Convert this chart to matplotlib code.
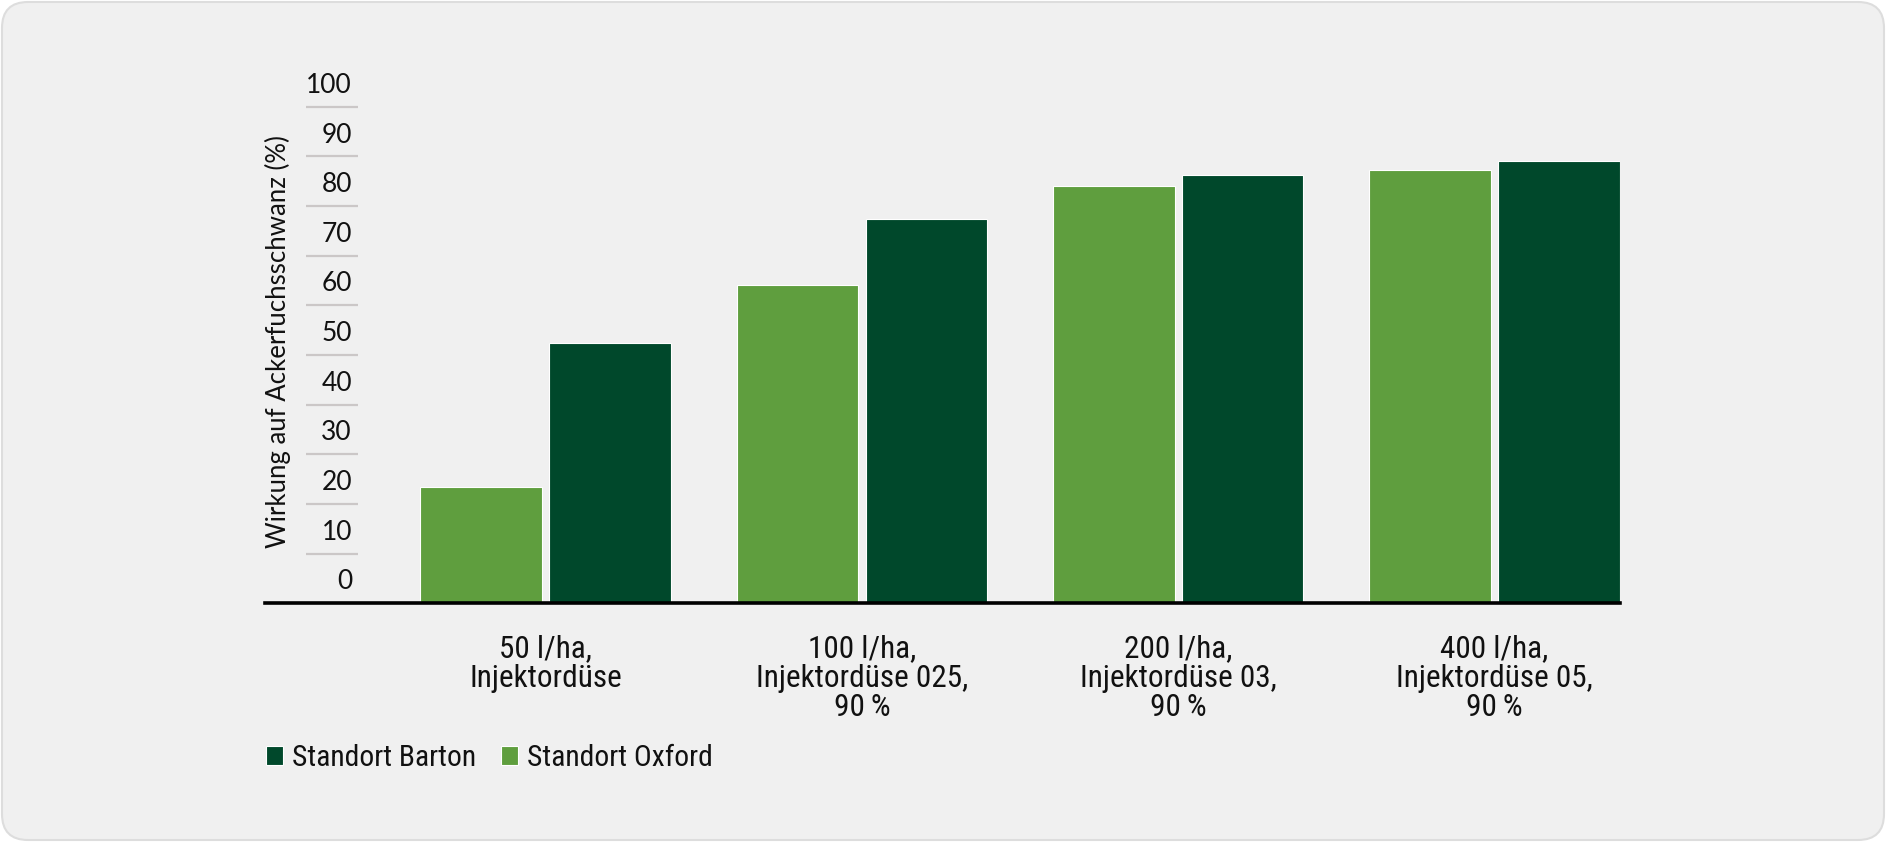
import matplotlib
matplotlib.use("Agg")
import matplotlib.pyplot as plt
from matplotlib import font_manager
from matplotlib.font_manager import FontProperties
from matplotlib.patches import FancyBboxPatch
from matplotlib.transforms import IdentityTransform
import numpy as np

categories = ["50 l/ha,\nInjektordüse", "100 l/ha,\nInjektordüse 025,\n90\u2009%",
              "200 l/ha,\nInjektordüse 03,\n90\u2009%", "400 l/ha,\nInjektordüse 05,\n90\u2009%"]
oxford = [23.5, 64.0, 84.0, 87.2]
barton = [52.4, 77.4, 86.2, 89.1]
yticks = [0, 10, 20, 30, 40, 50, 60, 70, 80, 90, 100]
ylabel = "Wirkung auf Ackerfuchsschwanz (%)"
series_names = ["Standort Barton", "Standort Oxford"]

C_OX = "#5f9e3e"
C_BA = "#00482b"

names = {f.name for f in font_manager.fontManager.ttflist}


def find_condensed():
    cands = []
    for f in font_manager.fontManager.ttflist:
        fn = f.fname.lower()
        if ("condensed" in fn or "narrow" in fn) and "semicondensed" not in fn \
                and "extracondensed" not in fn and f.style == "normal" \
                and f.weight in (400, "normal", "regular"):
            cands.append(f)
    pref = ["Liberation Sans Narrow", "Roboto Condensed", "Noto Sans", "Open Sans", "Roboto"]
    for p in pref:
        for f in cands:
            if f.name == p or f.name.startswith(p):
                return f.fname
    return cands[0].fname if cands else None


cfile = find_condensed()
if cfile:
    def narrow_fp(size):
        return FontProperties(fname=cfile, size=size)
else:
    def narrow_fp(size):
        return FontProperties(family="Liberation Sans", size=size * 0.85)

main = "Lato" if "Lato" in names else "DejaVu Sans"

W, H = 1886, 842
fig = plt.figure(figsize=(W / 100, H / 100), dpi=100, facecolor="white")

bg = FancyBboxPatch((2, 2), W - 4, H - 4, boxstyle="round,pad=0,rounding_size=26",
                    transform=IdentityTransform(), facecolor="#f0f0f0",
                    edgecolor="#dddddd", linewidth=1.5, zorder=-10)
fig.patches.append(bg)

ax_left, ax_right, y0, y100 = 265, 1619.5, 603.3, 106.7
ax = fig.add_axes([ax_left / W, (H - y0) / H, (ax_right - ax_left) / W, (y0 - y100) / H])
ax.set_zorder(2)
ax.set_facecolor("none")
ax.set_ylim(0, 100)
ax.set_xlim(-0.887, 3.395)

x = np.arange(len(categories))
bw = 0.384
off = 0.2035
ax.bar(x - off, oxford, width=bw, color=C_OX, edgecolor="#ffffff", linewidth=0.8, zorder=3,
       label=series_names[1])
ax.bar(x + off, barton, width=bw, color=C_BA, edgecolor="#ffffff", linewidth=0.8, zorder=3,
       label=series_names[0])

for s in ["top", "right", "left"]:
    ax.spines[s].set_visible(False)
ax.spines["bottom"].set_linewidth(2.6)
ax.spines["bottom"].set_color("black")
ax.spines["bottom"].set_zorder(4)
ax.set_yticks([])

tr = ax.get_yaxis_transform()
seg_x0 = (306 - ax_left) / (ax_right - ax_left)
seg_x1 = (357.7 - ax_left) / (ax_right - ax_left)
lab_x = (352 - ax_left) / (ax_right - ax_left)
for v in yticks:
    if v > 0:
        ax.plot([seg_x0, seg_x1], [v, v], transform=tr, color="#cbc7c7", lw=1.6,
                clip_on=False, solid_capstyle="butt")
    ax.text(lab_x, v + 4.3, str(v), transform=tr, ha="right", va="center",
            fontsize=19, family=main, color="#111111", clip_on=False)

ax.text((278 - ax_left) / (ax_right - ax_left), 52.7, ylabel, transform=tr, rotation=90,
        ha="center", va="center", fontsize=18.5, family=main, color="#111111")

ax.set_xticks(x)
ax.set_xticklabels(categories, fontproperties=narrow_fp(22.5), color="#111111", linespacing=1.03)
ax.tick_params(axis="x", length=0, pad=22)

handles, labels = ax.get_legend_handles_labels()
leg = fig.legend(handles[::-1], labels[::-1], loc="center left",
                 bbox_to_anchor=(266 / W, 1 - 758 / H), ncol=2, frameon=False,
                 prop=narrow_fp(21.3), handlelength=0.57, handleheight=0.57,
                 handletextpad=0.3, columnspacing=0.85, borderpad=0, borderaxespad=0)
for t in leg.get_texts():
    t.set_color("#111111")

fig.savefig("out.png", dpi=100, facecolor="white")
